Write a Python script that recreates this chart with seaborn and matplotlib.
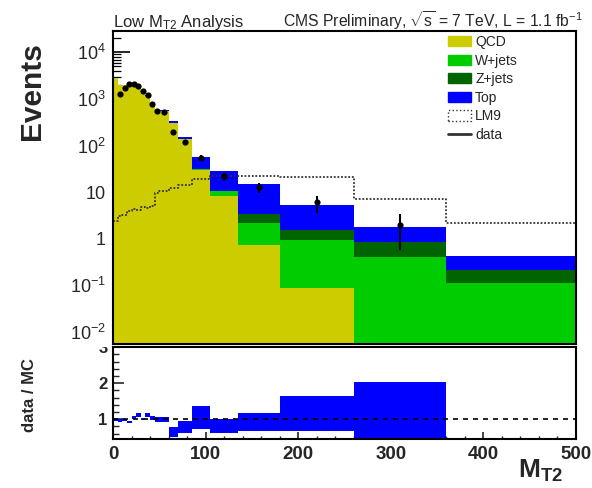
import numpy as np
import pandas as pd
import seaborn as sns
import matplotlib.pyplot as plt
from matplotlib.patches import Patch
from matplotlib.lines import Line2D
from matplotlib.ticker import LogLocator, MultipleLocator, NullFormatter
from matplotlib.transforms import Bbox, TransformedBbox

# ----------------------------------------------------
# values (MT2 bins, events / bin)
# ----------------------------------------------------
edges = [0, 5, 10, 15, 20, 25, 30, 35, 40, 45, 50, 60, 70, 85, 105, 135, 180, 260, 360, 500]

qcd = [2800, 2000, 2000, 2200, 2100, 1850, 1500, 1180, 800, 560, 560, 310, 138, 30, 8.2, 0.73, 0.089, 0, 0]
wjets = [0.1, 0.1, 0.2, 0.2, 0.3, 0.3, 0.4, 0.5, 0.6, 0.8, 1.0, 1.2, 1.4, 1.5, 2.3, 1.47, 0.85, 0.41, 0.11]
zjets = [0.05, 0.05, 0.1, 0.1, 0.1, 0.1, 0.2, 0.2, 0.2, 0.3, 0.3, 0.3, 0.3, 0.4, 0.3, 1.19, 0.57, 0.44, 0.10]
top = [1, 1.5, 2, 3, 3, 4, 4, 5, 6, 8, 15, 17, 15, 25, 18, 11.5, 3.7, 0.96, 0.22]
lm9 = [2.4, 3.0, 3.3, 3.9, 4.4, 4.2, 4.9, 4.6, 5.1, 9.5, 10.5, 12, 14, 19.5, 22, 22, 20.7, 7.1, 2.2]

data = [np.nan, 1290, 1710, 2060, 2090, 1890, 1500, 1190, 790, 550, 525, 198, 119, 55, 22.1, 12.7, 6.0, 1.97, np.nan]
data_lo = [np.nan, 1255, 1670, 2015, 2045, 1845, 1460, 1155, 762, 527, 502, 184, 108, 48, 17.4, 9.4, 3.6, 0.57, np.nan]
data_hi = [np.nan, 1325, 1750, 2105, 2135, 1935, 1540, 1225, 818, 573, 548, 212, 130, 62, 26.3, 15.8, 8.2, 3.4, np.nan]

ratio_lo = [0.94, 0.93, 0.94, 0.88, 1.00, 1.07, 0.97, 1.07, 0.97, 0.93, 0.93, 0.51, 0.61, 0.74, 0.61, 0.68, 0.68, 0.30, np.nan]
ratio_hi = [1.02, 1.00, 1.01, 0.95, 1.08, 1.16, 1.04, 1.17, 1.08, 1.05, 1.05, 0.79, 0.94, 1.38, 1.00, 1.18, 1.64, 2.03, np.nan]

processes = ["QCD", "W+jets", "Z+jets", "Top"]
colors = {"QCD": "#cccc00", "W+jets": "#00cc00", "Z+jets": "#006400", "Top": "#0000ff"}
x_ticks = [0, 100, 200, 300, 400, 500]
y_ticks = [1e-2, 1e-1, 1, 10, 1e2, 1e3, 1e4]
y_labels = ["10$^{-2}$", "10$^{-1}$", "1", "10", "10$^{2}$", "10$^{3}$", "10$^{4}$"]

# ----------------------------------------------------
# style
# ----------------------------------------------------
sns.set_style("ticks")
plt.rcParams["font.family"] = ["Liberation Sans", "DejaVu Sans"]
plt.rcParams["mathtext.fontset"] = "custom"
plt.rcParams["mathtext.rm"] = "Liberation Sans"
plt.rcParams["mathtext.it"] = "Liberation Sans:italic"
plt.rcParams["mathtext.bf"] = "Liberation Sans:bold"

edges_a = np.array(edges)
centers = (edges_a[:-1] + edges_a[1:]) / 2
widths = np.diff(edges_a)

rows = []
for name, vals in zip(processes, [qcd, wjets, zjets, top]):
    for c, v in zip(centers, vals):
        rows.append({"mt2": c, "events": v, "process": name})
bkg = pd.DataFrame(rows)

W, H = 592, 488
fig = plt.figure(figsize=(W / 100, H / 100), dpi=100)
ax1 = fig.add_axes([113 / W, 1 - 344.3 / H, 463 / W, (344.3 - 31) / H])
ax2 = fig.add_axes([113 / W, 1 - 439.3 / H, 463 / W, (439.3 - 347.3) / H])

# stacked backgrounds (first hue level ends up on top of the stack)
sns.histplot(data=bkg, x="mt2", weights="events", hue="process",
             hue_order=processes[::-1], palette=colors, bins=edges,
             multiple="stack", element="bars", alpha=1, linewidth=0,
             legend=False, ax=ax1)

# LM9 signal, dotted outline
sns.histplot(x=centers, weights=lm9, bins=edges, element="step", fill=False,
             color="#333333", linestyle=(0, (1, 1)), linewidth=1.3, ax=ax1)

# data
d = np.array(data)
m = ~np.isnan(d)
ax1.errorbar(centers[m], d[m],
             yerr=[d[m] - np.array(data_lo)[m], np.array(data_hi)[m] - d[m]],
             fmt="none", ecolor="black", elinewidth=1.5, capsize=0, zorder=5)
sns.scatterplot(x=centers[m], y=d[m], color="black", s=20, linewidth=0,
                zorder=6, ax=ax1)

ax1.set_yscale("log")
ax1.set_xlim(0, 500)
ax1.set_ylim(0.00542, 28650)
ax1.set_xlabel("")
ax1.set_ylabel("")
ax1.set_yticks(y_ticks)
ax1.set_yticklabels(y_labels, fontsize=13)
ax1.yaxis.set_minor_locator(LogLocator(base=10, subs=np.arange(2, 10), numticks=20))
ax1.yaxis.set_minor_formatter(NullFormatter())
ax1.xaxis.set_major_locator(MultipleLocator(100))
ax1.xaxis.set_minor_locator(MultipleLocator(20))
ax1.tick_params(axis="both", which="both", direction="in", top=False, right=False,
                labelbottom=False, color="black")
ax1.tick_params(axis="y", which="major", length=12, width=1.2, pad=5)
ax1.tick_params(axis="y", which="minor", length=5.5, width=0.9)
ax1.tick_params(axis="x", which="major", length=5, width=1.2)
ax1.tick_params(axis="x", which="minor", length=2.2, width=1)

handles = [Patch(facecolor=colors[p], edgecolor=colors[p], label=p) for p in processes]
handles.append(Patch(facecolor="white", edgecolor="#333333", linestyle=":", label="LM9"))
handles.append(Line2D([0], [0], color="#333333", lw=2, label="data"))
ax1.legend(handles=handles, loc="upper left", bbox_to_anchor=(448 / W, 1 - 35 / H),
           bbox_transform=fig.transFigure, frameon=False, fontsize=10,
           borderpad=0, borderaxespad=0, handlelength=1.65, handleheight=0.75,
           handletextpad=0.3, labelspacing=0.33)

# ratio panel
lo = np.array(ratio_lo)
hi = np.array(ratio_hi)
mr = ~np.isnan(lo)
ax2.bar(edges_a[:-1][mr], (hi - lo)[mr], bottom=lo[mr], width=widths[mr],
        align="edge", color="#0000ff", linewidth=0)
ax2.axhline(1, color="black", lw=1.2, ls=(0, (3, 3)))
ax2.set_xlim(0, 500)
ax2.set_ylim(0.44, 3.0)
ax2.set_xticks(x_ticks)
ax2.set_xticklabels([str(t) for t in x_ticks], fontsize=13.5, fontweight="bold")
ax2.set_yticks([1, 2, 3])
ax2.set_yticklabels(["1", "2", "3"], fontsize=12, fontweight="bold")
ax2.xaxis.set_minor_locator(MultipleLocator(20))
ax2.yaxis.set_minor_locator(MultipleLocator(0.2))
ax2.tick_params(axis="both", which="both", direction="in", top=False, right=False)
ax2.tick_params(axis="x", which="major", length=5, width=1.2, pad=5)
ax2.tick_params(axis="x", which="minor", length=2.5, width=1)
ax2.tick_params(axis="y", which="major", length=8, width=1.2, pad=4)
ax2.tick_params(axis="y", which="minor", length=4, width=1)

# the "3" of the ratio panel is half hidden under the upper pad, as in the original
clip = TransformedBbox(Bbox([[0, 0], [1, 1 - 346.5 / H]]), fig.transFigure)
for lbl in ax2.get_yticklabels():
    lbl.set_clip_box(clip)
    lbl.set_clip_on(True)

for ax in (ax1, ax2):
    for s in ax.spines.values():
        s.set_visible(True)
        s.set_linewidth(1.5)
        s.set_color("black")

# texts
fig.text(113 / W, 1 - 26.5 / H, r"Low M$_{\mathrm{T2}}$ Analysis", fontsize=12, va="baseline")
fig.text(583 / W, 1 - 26.5 / H,
         r"CMS Preliminary, $\sqrt{\mathrm{s}}$ = 7 TeV, L = 1.1 fb$^{\mathrm{-1}}$",
         fontsize=11.3, va="baseline", ha="right")
fig.text(32.5 / W, 1 - 42 / H, "Events", rotation=90, ha="center", va="top",
         fontsize=21.5, fontweight="bold")
fig.text(29 / W, 1 - 395 / H, "data / MC", rotation=90, ha="center", va="center",
         fontsize=12, fontweight="bold")
fig.text(563 / W, 1 - 478 / H, r"M$_{\mathbf{T2}}$", ha="right", va="baseline",
         fontsize=19, fontweight="bold")

fig.savefig("out.png", dpi=100)
